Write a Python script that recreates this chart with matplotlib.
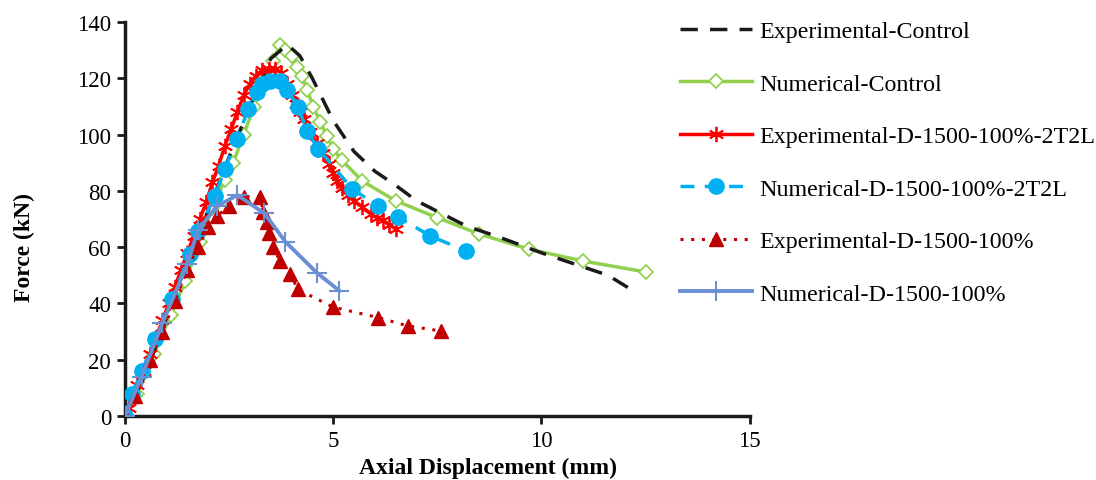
import matplotlib
matplotlib.use("Agg")
import matplotlib.pyplot as plt

plt.rcParams['font.family'] = ['Liberation Serif', 'DejaVu Serif']

# Experimental-Control (no markers)
exp_ctrl_x = [0, 0.5, 1.0, 1.5, 2.0, 2.5, 3.0, 3.5, 3.9, 4.2, 4.5, 5.0, 5.5, 6.0, 6.5,
              7.0, 7.6, 8.2, 9.0, 10.0, 11.0, 11.6, 12.15]
exp_ctrl_y = [0, 15, 35, 55, 73, 92, 110, 127, 132, 128, 120, 105, 94, 87, 82,
              76.5, 72, 67.5, 63.5, 58, 53, 50, 45]

# Numerical-Control
num_ctrl_x = [0, 0.3, 0.7, 1.1, 1.45, 1.8, 2.1, 2.4, 2.6, 2.85, 3.1, 3.3, 3.55, 3.73,
              3.85, 4.0, 4.13, 4.25, 4.37, 4.52, 4.69, 4.85, 5.0, 5.2, 5.7, 6.5,
              7.5, 8.5, 9.7, 11.0, 12.5]
num_ctrl_y = [0, 8, 22, 36, 48, 62, 74, 84, 90, 100, 110, 118, 126, 132,
              130, 128, 124, 121, 116, 110, 104.5, 99.5, 95, 91, 83.5, 76.5,
              70.5, 64.7, 59.3, 55.1, 51.2]

# Experimental-D-1500-100%-2T2L
exp_2t2l_x = [0, 0.1, 0.2, 0.3, 0.45, 0.6, 0.75, 0.9, 1.05, 1.2, 1.35, 1.5, 1.65, 1.8,
              1.95, 2.1, 2.25, 2.4, 2.55, 2.7, 2.85, 3.0, 3.15, 3.3, 3.45, 3.6, 3.75,
              3.9, 4.0, 4.1, 4.2, 4.3, 4.45, 4.6, 4.75, 4.9, 5.0, 5.1, 5.2, 5.35,
              5.5, 5.7, 5.9, 6.05, 6.2, 6.35, 6.5]
exp_2t2l_y = [0, 3, 7, 11, 16, 22, 28, 34, 40, 46, 52, 58, 64, 70,
              76, 83, 89, 96, 102, 108, 114, 118, 121, 123, 123.5, 123.5, 122,
              118, 114, 111, 108, 105.5, 101, 97, 93.5, 89.5, 86.5, 83.5, 81, 78.5,
              76.5, 74.3, 71.8, 70.5, 69.5, 68, 66.5]

# Numerical-D-1500-100%-2T2L
num_2t2l_x = [0, 0.17, 0.41, 0.72, 1.13, 1.56, 1.76, 2.16, 2.4, 2.69, 2.96, 3.17, 3.29,
              3.49, 3.73, 3.89, 4.16, 4.37, 4.64, 5.46, 6.08, 6.56, 7.33, 8.2]
num_2t2l_y = [0, 7.8, 16, 27.4, 41.6, 57.6, 65.7, 78.2, 87.8, 98.4, 109, 115, 118,
              119, 119, 116, 109.8, 101.3, 95, 80.7, 74.6, 70.7, 64, 58.6]

# Experimental-D-1500-100%
exp_d_x = [0, 0.25, 0.6, 0.9, 1.2, 1.5, 1.75, 2.0, 2.2, 2.5, 2.85, 3.25, 3.32, 3.4,
           3.45, 3.55, 3.73, 3.97, 4.15, 5.0, 6.08, 6.8, 7.6]
exp_d_y = [0, 7, 20, 30, 41, 52, 60, 67, 71, 74.5, 78, 78, 72.5, 69,
           65, 60, 55, 50.5, 45, 38.7, 35, 32, 30.2]

# Numerical-D-1500-100%
num_d_x = [0, 0.4, 0.9, 1.5, 1.75, 2.2, 2.7, 3.35, 3.85, 4.6, 5.15]
num_d_y = [0, 14, 33, 54, 66, 74.5, 78.5, 72, 62, 51, 44.5]

fig = plt.figure(figsize=(10.96, 4.81), dpi=100)
ax = fig.add_axes([0.114, 0.133, 0.57, 0.819])

ax.plot(exp_ctrl_x, exp_ctrl_y, color='#1a1a1a', linestyle=(0, (5, 3.5)), linewidth=2.5,
        label='Experimental-Control', zorder=3)
ax.plot(num_ctrl_x, num_ctrl_y, color='#92D050', linewidth=2.5, marker='D', markersize=7,
        markerfacecolor='white', markeredgecolor='#92D050', markeredgewidth=1.3,
        label='Numerical-Control', zorder=2)
ax.plot(exp_2t2l_x, exp_2t2l_y, color='#FF0000', linewidth=2.5, marker=(6, 2, 0), markersize=11,
        markeredgewidth=1.3, label='Experimental-D-1500-100%-2T2L', zorder=4)
ax.plot(num_2t2l_x, num_2t2l_y, color='#00B0F0', linewidth=2.5, linestyle=(0, (4, 3)),
        marker='o', markersize=11, label='Numerical-D-1500-100%-2T2L', zorder=5)
ax.plot(exp_d_x, exp_d_y, color='#C00000', linewidth=2.2, linestyle=(0, (1, 2.5)),
        marker='^', markersize=10, label='Experimental-D-1500-100%', zorder=6)
ax.plot(num_d_x, num_d_y, color='#6A8FD2', linewidth=2.8, marker='+', markersize=15,
        markeredgewidth=1.5, label='Numerical-D-1500-100%', zorder=7)

ax.set_xlim(0, 15)
ax.set_ylim(0, 140)
ax.set_xticks([0, 5, 10, 15])
ax.set_yticks(range(0, 141, 20))
ax.tick_params(labelsize=16.5, width=2, length=6, direction='out', color='#1a1a1a')
ax.tick_params(axis='x', pad=4)
ax.tick_params(axis='y', pad=4)
for side in ['top', 'right']:
    ax.spines[side].set_visible(False)
for side in ['left', 'bottom']:
    ax.spines[side].set_linewidth(2.5)
    ax.spines[side].set_color('#1a1a1a')

ax.set_xlabel('Axial Displacement (mm)', fontsize=17, fontweight='bold')
ax.xaxis.set_label_coords((488 - 125) / 625, (417 - 458) / 394)
ax.set_ylabel('Force (kN)', fontsize=17, fontweight='bold')
ax.yaxis.set_label_coords((35 - 125) / 625, (417 - 247) / 394)

ax.legend(loc='upper left', bbox_to_anchor=((680 - 125) / 625, 1.005), frameon=False,
          fontsize=17.3, handlelength=3.0, labelspacing=1.28, handletextpad=0.3,
          borderpad=0, borderaxespad=0)

fig.savefig('out.png', dpi=100)
